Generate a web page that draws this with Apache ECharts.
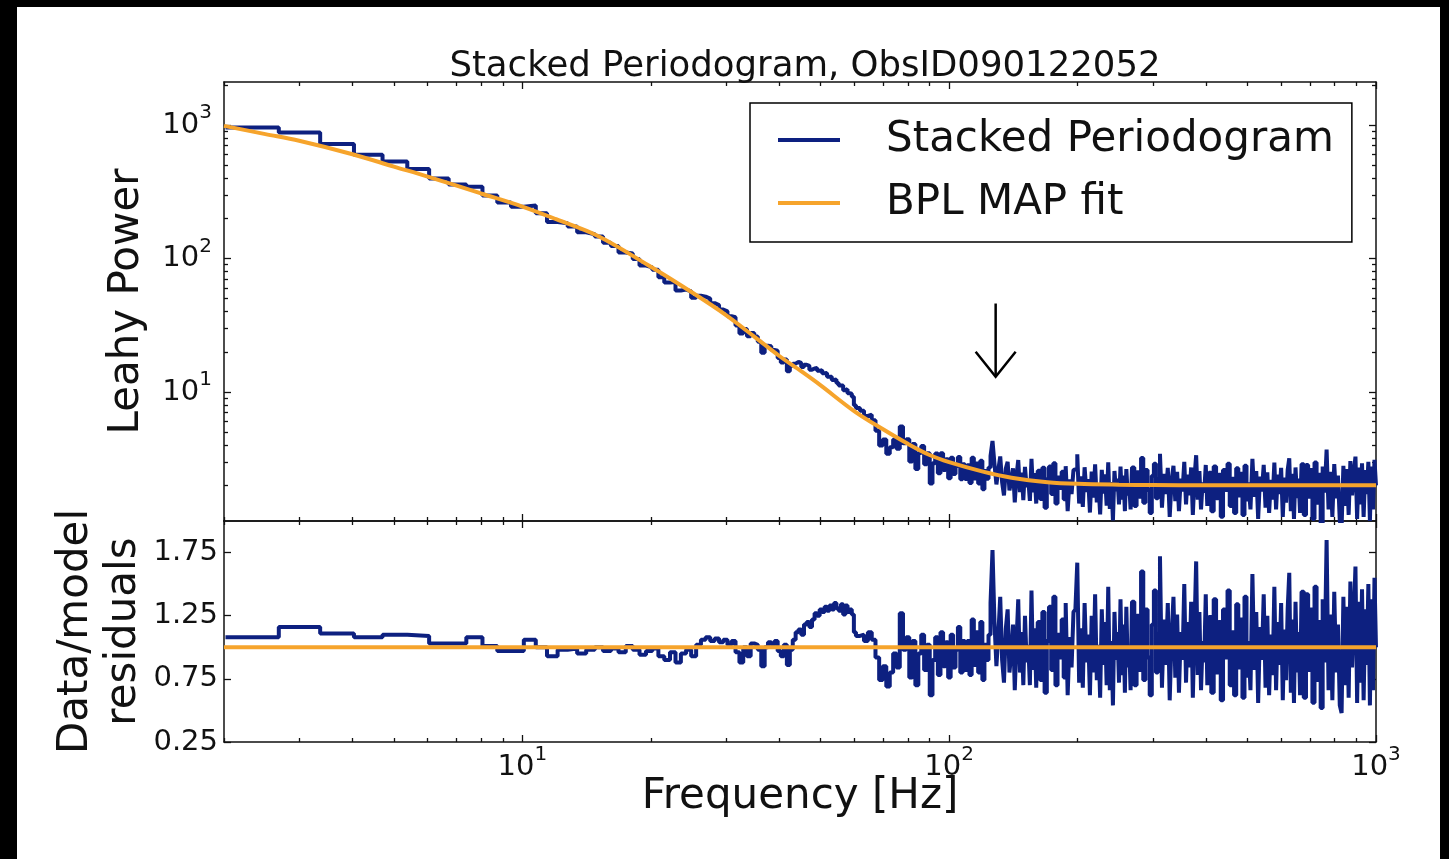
<!DOCTYPE html>
<html>
<head>
<meta charset="utf-8">
<script src="https://cdn.jsdelivr.net/npm/echarts@6/dist/echarts.min.js"></script>
<style>
  html, body { margin: 0; padding: 0; background: #000; width: 1449px; height: 859px; overflow: hidden; }
  #sheet { position: absolute; left: 17px; top: 7px; width: 1423px; height: 852px; background: #fff; }
  #chart { position: absolute; left: 0; top: 0; width: 1449px; height: 859px; }
</style>
</head>
<body>
<div id="sheet"></div>
<div id="chart"></div>
<script>
// Fourier bin width of the stacked periodogram (Hz); each bin index k sits at k * BIN_HZ.
const BIN_HZ = 0.672;
// Bins plotted: [first k, last k, step]. Low frequencies bin by bin, higher ones thinned.
const binRuns = [[3, 90, 1], [92, 160, 2], [162, 240, 2], [243, 399, 3], [404, 604, 5], [612, 996, 8], [1008, 1488, 12]];

// Stacked Leahy power per plotted bin
const leahyPower = [
  // 2 - 61 Hz
  960, 880, 722, 599, 532, 469, 398, 359, 344, 296,
  263, 244, 249, 218, 188, 184, 174, 157, 152, 146,
  131, 124, 111, 109, 99, 88.5, 85.7, 82.2, 72.4, 66.0,
  66.6, 57.6, 58.5, 56.8, 50.9, 52.7, 51.8, 50.1, 46.3, 44.8,
  41.4, 40.2, 36.9, 36.3, 31.5, 27.4, 29.6, 26.1, 27.6, 26.0,
  23.8, 19.7, 22.2, 22.0, 20.6, 20.4, 18.0, 16.6, 17.5, 14.3,
  15.7, 16.3, 16.8, 16.5, 15.4, 16.0, 15.7, 14.7, 15.0, 15.1,
  14.4, 14.6, 13.8, 13.9, 13.0, 13.0, 12.3, 12.4, 11.7, 11.2,
  11.2, 10.3, 10.5, 9.78, 9.70, 9.20, 7.97, 7.58,
  // 62 - 108 Hz
  7.22, 6.61, 6.75, 6.15, 5.13, 3.97, 4.40, 3.44, 3.85, 4.41,
  3.76, 5.51, 4.13, 4.42, 3.02, 4.07, 2.65, 3.49, 3.94, 2.87,
  3.48, 2.06, 2.92, 3.46, 2.46, 3.48, 2.60, 3.14, 2.26, 3.22,
  2.43, 2.79, 3.26, 2.22, 2.88,
  // 109 - 161 Hz
  2.23, 2.82, 2.08, 3.22, 2.25, 2.91, 2.06, 3.06, 1.87, 2.56,
  2.24, 2.72, 3.31, 4.30, 2.89, 2.03, 2.61, 3.29, 2.11, 1.68,
  2.67, 3.00, 1.83, 2.17, 2.68, 1.49, 2.36, 3.09, 1.78, 2.49,
  1.55, 2.75, 1.94, 2.23, 1.53, 3.15, 1.77, 2.47, 1.46, 2.57,
  // 163 - 268 Hz
  1.58, 2.71, 1.36, 2.22, 2.77, 1.72, 2.93, 1.46, 2.29, 1.91,
  2.53, 1.57, 2.78, 1.28, 2.21, 1.72, 2.61, 2.65, 3.41, 1.46,
  2.33, 1.38, 2.73, 1.78, 2.22, 1.25, 2.53, 1.62, 2.87, 1.49,
  2.05, 1.21, 2.61, 1.73, 2.41, 1.41, 2.97, 1.33, 2.11, 1.09,
  2.56, 1.80, 2.24, 1.44, 2.76, 1.56, 2.36, 1.28, 2.64, 1.68,
  2.04, 1.32, 2.72,
  // 271 - 406 Hz
  1.40, 2.50, 1.64, 3.20, 1.48, 2.60, 1.84, 1.24, 2.36, 2.90,
  1.60, 2.20, 3.44, 1.36, 2.44, 1.72, 2.70, 1.16, 2.16, 2.80,
  1.52, 2.52, 1.28, 2.24, 1.80, 3.00, 1.44, 2.40, 1.68, 2.72,
  1.20, 2.30, 3.36, 1.56, 2.56, 1.32, 2.10, 1.76, 2.84, 1.40,
  2.48,
  // 411 - 669 Hz
  1.28, 2.76, 1.60, 2.40, 1.16, 2.60, 1.84, 2.90, 1.40, 2.24,
  1.24, 2.68, 1.68, 2.44, 1.20, 2.80, 1.52, 2.10, 1.32, 3.16,
  1.64, 2.56, 1.12, 2.32, 1.80, 2.84, 1.36, 2.50, 1.24, 2.20,
  1.56, 2.96, 1.32, 2.40, 1.72, 2.70, 1.16, 2.28, 1.48, 2.60,
  3.18, 1.28, 2.44, 1.12, 2.72, 1.60, 2.24, 1.24, 2.88,
  // 677 - 1000 Hz
  1.20, 2.84, 1.64, 2.60, 1.12, 2.96, 1.48, 2.40, 1.04, 2.76,
  1.76, 3.70, 1.32, 2.52, 1.16, 2.88, 1.60, 2.36, 1.08, 0.96,
  2.80, 1.40, 2.64, 1.20, 3.04, 1.68, 2.48, 3.28, 1.12, 2.72,
  1.44, 2.92, 1.16, 2.60, 1.72, 3.00, 1.08, 2.76, 1.32, 3.10,
  2.00
];

// Data / model ratio per plotted bin
const residualRatio = [
  // 2 - 61 Hz
  1.08, 1.16, 1.11, 1.08, 1.10, 1.09, 1.03, 1.03, 1.08, 1.01,
  0.97, 0.97, 1.06, 1.00, 0.93, 0.98, 0.99, 0.95, 0.98, 1.00,
  0.97, 0.99, 0.96, 1.01, 0.98, 0.94, 0.97, 0.99, 0.93, 0.90,
  0.96, 0.88, 0.95, 0.98, 0.93, 1.02, 1.06, 1.08, 1.05, 1.07,
  1.04, 1.06, 1.02, 1.05, 0.96, 0.88, 1.00, 0.93, 1.03, 1.02,
  0.98, 0.85, 1.00, 1.04, 1.02, 1.05, 0.97, 0.93, 1.02, 0.86,
  0.98, 1.06, 1.12, 1.14, 1.10, 1.18, 1.20, 1.16, 1.22, 1.27,
  1.25, 1.30, 1.28, 1.32, 1.29, 1.33, 1.30, 1.35, 1.31, 1.29,
  1.34, 1.26, 1.33, 1.28, 1.30, 1.26, 1.12, 1.09,
  // 62 - 108 Hz
  1.10, 1.05, 1.12, 1.06, 0.92, 0.74, 0.85, 0.69, 0.80, 0.95,
  0.84, 1.27, 0.98, 1.08, 0.76, 1.05, 0.70, 0.95, 1.10, 0.82,
  1.02, 0.62, 0.90, 1.08, 0.78, 1.12, 0.85, 1.04, 0.76, 1.10,
  0.84, 0.98, 1.16, 0.80, 1.05,
  // 109 - 161 Hz
  0.82, 1.05, 0.78, 1.22, 0.86, 1.12, 0.80, 1.20, 0.74, 1.02,
  0.90, 1.10, 1.35, 1.77, 1.20, 0.85, 1.10, 1.40, 0.90, 0.72,
  1.15, 1.30, 0.80, 0.95, 1.18, 0.66, 1.05, 1.38, 0.80, 1.12,
  0.70, 1.25, 0.88, 1.02, 0.70, 1.45, 0.82, 1.15, 0.68, 1.20,
  // 163 - 268 Hz
  0.74, 1.28, 0.64, 1.05, 1.32, 0.82, 1.40, 0.70, 1.10, 0.92,
  1.22, 0.76, 1.35, 0.62, 1.08, 0.84, 1.28, 1.30, 1.67, 0.72,
  1.15, 0.68, 1.35, 0.88, 1.10, 0.62, 1.25, 0.80, 1.42, 0.74,
  1.02, 0.60, 1.30, 0.86, 1.20, 0.70, 1.48, 0.66, 1.05, 0.54,
  1.28, 0.90, 1.12, 0.72, 1.38, 0.78, 1.18, 0.64, 1.32, 0.84,
  1.02, 0.66, 1.36,
  // 271 - 406 Hz
  0.70, 1.25, 0.82, 1.60, 0.74, 1.30, 0.92, 0.62, 1.18, 1.45,
  0.80, 1.10, 1.72, 0.68, 1.22, 0.86, 1.35, 0.58, 1.08, 1.40,
  0.76, 1.26, 0.64, 1.12, 0.90, 1.50, 0.72, 1.20, 0.84, 1.36,
  0.60, 1.15, 1.68, 0.78, 1.28, 0.66, 1.05, 0.88, 1.42, 0.70,
  1.24,
  // 411 - 669 Hz
  0.64, 1.38, 0.80, 1.20, 0.58, 1.30, 0.92, 1.45, 0.70, 1.12,
  0.62, 1.34, 0.84, 1.22, 0.60, 1.40, 0.76, 1.05, 0.66, 1.58,
  0.82, 1.28, 0.56, 1.16, 0.90, 1.42, 0.68, 1.25, 0.62, 1.10,
  0.78, 1.48, 0.66, 1.20, 0.86, 1.35, 0.58, 1.14, 0.74, 1.30,
  1.59, 0.64, 1.22, 0.56, 1.36, 0.80, 1.12, 0.62, 1.44,
  // 677 - 1000 Hz
  0.60, 1.42, 0.82, 1.30, 0.56, 1.48, 0.74, 1.20, 0.52, 1.38,
  0.88, 1.85, 0.66, 1.26, 0.58, 1.44, 0.80, 1.18, 0.54, 0.48,
  1.40, 0.70, 1.32, 0.60, 1.52, 0.84, 1.24, 1.64, 0.56, 1.36,
  0.72, 1.46, 0.58, 1.30, 0.86, 1.50, 0.54, 1.38, 0.66, 1.55,
  1.00
];

// Broken power law MAP fit, sampled along frequency
const fitFreq = [2, 2.5, 3, 4, 5, 6, 8, 10, 12, 15, 20, 25, 30, 35, 40, 45, 50, 60, 70, 80, 90, 100, 120, 140, 170, 200, 250, 300, 400, 600, 1000];
const fitPower = [985, 855, 762, 604, 488, 411, 307, 245, 197, 148, 86.7, 55.6, 37.7, 25.9, 18.6, 14.3, 11.2, 7.16, 5.25, 4.09, 3.37, 2.98, 2.53, 2.28, 2.11, 2.05, 2.02, 2.01, 2.0, 2.0, 2.0];
// The fit divided by itself in the residual panel
const ratioFitFreq = [2, 1000];
const ratioFit = [1, 1];

// Annotation arrow: [frequency, start power, tip power]
const arrowMark = [128.5, 46, 13];

// Tick positions
const freqMajor = [10, 100, 1000];
const freqMinor = [2, 3, 4, 5, 6, 7, 8, 9, 20, 30, 40, 50, 60, 70, 80, 90, 200, 300, 400, 500, 600, 700, 800, 900];
const powerMajor = [10, 100, 1000];
const powerMinor = [2, 3, 4, 5, 6, 7, 8, 9, 20, 30, 40, 50, 60, 70, 80, 90, 200, 300, 400, 500, 600, 700, 800, 900, 2000];
const ratioTicks = [0.25, 0.75, 1.25, 1.75];

const FONT = 'DejaVu Sans';
const INK = '#111';
const NAVY = '#0d2080';
const ORANGE = '#f6a42c';

const binFreq = [];
binRuns.forEach(([a, b, s]) => { for (let k = a; k <= b; k += s) binFreq.push(k * BIN_HZ); });

const powerRich = {
  fontFamily: FONT, fontSize: 29, color: INK, lineHeight: 44,
  rich: { sup: { fontFamily: FONT, fontSize: 20, color: INK, lineHeight: 20, verticalAlign: 'top' } }
};
const powTen = v => '10{sup|' + Math.round(Math.log10(v)) + '}';

function freqAxis(grid, position, ticks, len, opts) {
  return Object.assign({
    type: 'log', logBase: 10, gridIndex: grid, position: position, min: 2, max: 1000,
    axisLine: { show: true, onZero: false, lineStyle: { color: INK, width: 1.5 } },
    axisTick: { show: true, inside: true, length: len, customValues: ticks, lineStyle: { color: INK, width: 1.3 } },
    axisLabel: { show: false },
    splitLine: { show: false }
  }, opts || {});
}
function powerAxis(position, ticks, len, opts) {
  return Object.assign({
    type: 'log', logBase: 10, gridIndex: 0, position: position, min: 1.08, max: 2100,
    axisLine: { show: true, onZero: false, lineStyle: { color: INK, width: 1.5 } },
    axisTick: { show: true, inside: true, length: len, customValues: ticks, lineStyle: { color: INK, width: 1.3 } },
    axisLabel: { show: false },
    splitLine: { show: false }
  }, opts || {});
}
function ratioAxis(position, opts) {
  return Object.assign({
    type: 'value', gridIndex: 1, position: position, min: 0.25, max: 2.0,
    axisLine: { show: true, onZero: false, lineStyle: { color: INK, width: 1.5 } },
    axisTick: { show: true, inside: true, length: 7, customValues: ratioTicks, lineStyle: { color: INK, width: 1.3 } },
    axisLabel: { show: false },
    splitLine: { show: false }
  }, opts || {});
}

const chart = echarts.init(document.getElementById('chart'), null, { renderer: 'canvas' });
chart.setOption({
  animation: false,
  title: {
    text: 'Stacked Periodogram, ObsID090122052',
    left: 800, top: 42, textAlign: 'center',
    textStyle: { fontFamily: FONT, fontSize: 35.5, fontWeight: 'normal', color: INK, lineHeight: 40 }
  },
  legend: {
    data: ['Stacked Periodogram', 'BPL MAP fit'],
    orient: 'vertical', left: 750, top: 103,
    padding: [12, 18, 14, 28], itemGap: 13,
    itemWidth: 62, itemHeight: 4, icon: 'rect',
    borderColor: '#000', borderWidth: 1.5, backgroundColor: '#fff',
    selectedMode: false,
    formatter: name => '{gap|}' + name,
    textStyle: { fontFamily: FONT, fontSize: 42, color: INK, lineHeight: 50, rich: { gap: { width: 41 } } }
  },
  grid: [
    { left: 224, top: 82, width: 1152, height: 439 },
    { left: 224, top: 521, width: 1152, height: 221 }
  ],
  xAxis: [
    freqAxis(0, 'bottom', freqMajor, 7),
    freqAxis(0, 'bottom', freqMinor, 4, { axisLine: { show: false } }),
    freqAxis(0, 'top', freqMajor, 7),
    freqAxis(0, 'top', freqMinor, 4, { axisLine: { show: false } }),
    freqAxis(1, 'bottom', freqMajor, 7, {
      axisLabel: Object.assign({ show: true, margin: 3, customValues: freqMajor, formatter: powTen }, powerRich),
      name: 'Frequency [Hz]', nameLocation: 'middle', nameGap: 34, nameMoveOverlap: false,
      nameTextStyle: { fontFamily: FONT, fontSize: 42, color: INK, lineHeight: 42 }
    }),
    freqAxis(1, 'bottom', freqMinor, 4, { axisLine: { show: false } }),
    freqAxis(1, 'top', freqMajor, 7),
    freqAxis(1, 'top', freqMinor, 4, { axisLine: { show: false } })
  ],
  yAxis: [
    powerAxis('left', powerMajor, 7, {
      axisLabel: Object.assign({ show: true, margin: 12, customValues: powerMajor, formatter: powTen }, powerRich),
      name: 'Leahy Power', nameLocation: 'middle', nameGap: 76, nameRotate: 90, nameMoveOverlap: false,
      nameTextStyle: { fontFamily: FONT, fontSize: 42, color: INK }
    }),
    powerAxis('left', powerMinor, 4, { axisLine: { show: false } }),
    powerAxis('right', powerMajor, 7),
    powerAxis('right', powerMinor, 4, { axisLine: { show: false } }),
    ratioAxis('left', {
      axisLabel: { show: true, margin: 6, customValues: ratioTicks, formatter: v => v.toFixed(2), fontFamily: FONT, fontSize: 29, color: INK },
      name: 'Data/model\nresiduals', nameLocation: 'middle', nameGap: 76, nameRotate: 90, nameMoveOverlap: false,
      nameTextStyle: { fontFamily: FONT, fontSize: 42, color: INK, lineHeight: 48 }
    }),
    ratioAxis('right')
  ],
  series: [
    {
      name: 'Stacked Periodogram', type: 'line', xAxisIndex: 0, yAxisIndex: 0,
      step: 'end', showSymbol: false, color: NAVY,
      lineStyle: { color: NAVY, width: 4 },
      data: binFreq.map((f, i) => [f, leahyPower[i]]), z: 2
    },
    {
      name: 'BPL MAP fit', type: 'line', xAxisIndex: 0, yAxisIndex: 0,
      smooth: 0.35, showSymbol: false, color: ORANGE,
      lineStyle: { color: ORANGE, width: 4 },
      data: fitFreq.map((f, i) => [f, fitPower[i]]), z: 3
    },
    {
      name: 'Stacked Periodogram', type: 'line', xAxisIndex: 4, yAxisIndex: 4,
      step: 'end', showSymbol: false, color: NAVY,
      lineStyle: { color: NAVY, width: 4 },
      data: binFreq.map((f, i) => [f, residualRatio[i]]), z: 2
    },
    {
      name: 'BPL MAP fit', type: 'line', xAxisIndex: 4, yAxisIndex: 4,
      showSymbol: false, color: ORANGE,
      lineStyle: { color: ORANGE, width: 4 },
      data: ratioFitFreq.map((f, i) => [f, ratioFit[i]]), z: 3
    },
    {
      type: 'custom', xAxisIndex: 0, yAxisIndex: 0, z: 4,
      encode: { x: 0, y: [1, 2] },
      data: [arrowMark],
      renderItem: (params, api) => {
        const from = api.coord([api.value(0), api.value(1)]);
        const tip = api.coord([api.value(0), api.value(2)]);
        return {
          type: 'group',
          children: [
            { type: 'line', shape: { x1: from[0], y1: from[1], x2: tip[0], y2: tip[1] }, style: { stroke: '#000', lineWidth: 2.5 } },
            { type: 'polyline', shape: { points: [[tip[0] - 20, tip[1] - 25], [tip[0], tip[1]], [tip[0] + 20, tip[1] - 25]] }, style: { stroke: '#000', lineWidth: 2.5, fill: null } }
          ]
        };
      }
    }
  ]
});
</script>
</body>
</html>
